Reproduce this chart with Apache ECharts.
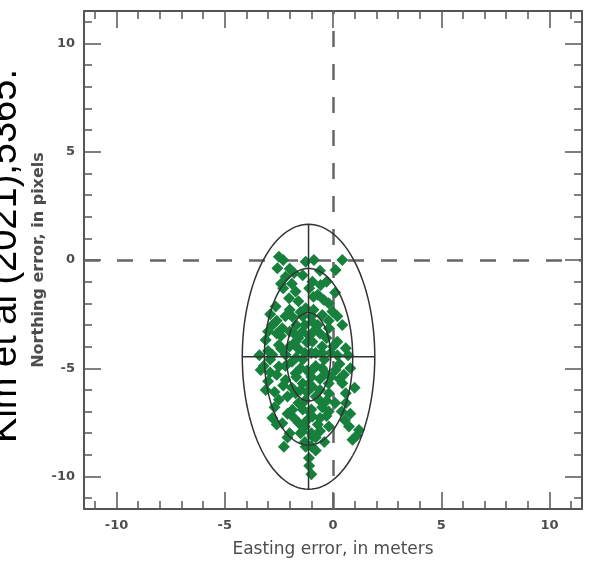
<!DOCTYPE html>
<html>
<head>
<meta charset="utf-8">
<script src="https://cdn.jsdelivr.net/npm/echarts@6/dist/echarts.min.js"></script>
<style>html,body{margin:0;padding:0;background:#fff;}#chart{width:590px;height:563px;}</style>
</head>
<body>
<div id="chart"></div>
<script>
// Error samples (easting, northing)
const eastingErr = [
 -2.50,-2.57,-2.19,-0.88,-1.26,0.43,0.12,-0.57,-0.95,-1.73,-2.03,-2.65,-0.42,-0.03,0.43,-0.19,
 -3.11,-2.80,-2.34,-1.88,-1.26,-0.95,-0.49,0.20,0.59,-2.50,-1.73,-0.95,-1.42,-2.19,-2.80,
 -3.34,-3.11,-2.50,-2.19,-2.50,-1.73,-1.73,-0.95,-0.95,-0.65,-0.34,0.12,0.43,0.59,-0.19,
 -1.88,-2.34,-1.57,-0.95,-0.95,-0.19,0.74,0.90,1.20,-2.27,-1.11,-1.26,-1.42,-2.10,
 -1.5,-1.0,-0.6,-1.3,-1.8,-0.9,-1.2,-0.5,-1.6,-2.0,-1.0,-0.4,-1.4,-1.9,-0.8,-1.2,-1.7,-0.6,
 -1.1,-1.5,-0.8,-1.3,-1.0,-1.6,-0.5,-1.2,-0.7,-1.0,-1.3,-0.8,-1.1,-2.3,-2.6,-2.9,-2.4,-2.7,
 -2.1,-0.1,0.3,-0.2,0.1,-0.3,0.4,-2.2,-2.4,-0.2,0.2,-0.7,-1.6,-1.1,-2.3,-1.8,-2.9,-3.0,-3.4,
 -3.0,-2.8,0.8,0.7,1.0,0.55,1.1,
 -2.3,-2.0,-2.4,-1.9,-1.4,-0.6,-0.3,0.1,-0.9,-1.4,-1.7,-2.0,-1.1,-0.7,-0.3,0.0,-0.8,-1.3,
 -1.7,-2.2,-1.5,-1.0,-0.5,-0.1,0.3,-1.4,-1.9,-2.1,-1.2,-0.6,-0.3,-1.4,-1.8,-1.1,-0.6,-0.2,
 -1.3,-0.8,-1.0,-1.5,-0.6,-2.6,-2.0,-1.0,-2.6,-3.2,-2.9,-2.7,0.5,0.6,0.8,-0.4,-1.6,-0.9,
 -0.2,-2.0,-2.6,-3.0,0.2,-0.5
];
const northingErr = [
 0.15,-0.38,-0.77,0.00,-0.08,0.00,-0.46,-1.15,-1.00,-1.46,-1.77,-2.15,-1.85,-2.38,-3.00,-3.15,
 -3.69,-3.00,-3.15,-2.62,-2.23,-2.85,-2.54,-3.77,-4.08,-3.92,-3.77,-3.77,-3.31,-4.38,-4.38,
 -5.08,-6.00,-4.92,-5.54,-6.46,-5.23,-6.15,-5.08,-5.85,-6.46,-5.23,-5.08,-5.69,-6.15,-6.15,
 -6.92,-7.54,-7.54,-7.23,-8.15,-7.69,-7.69,-8.30,-7.85,-8.62,-9.15,-8.62,-7.92,-8.20,
 -2.4,-2.6,-3.4,-3.0,-3.4,-3.3,-3.8,-4.0,-4.1,-4.0,-4.3,-4.6,-4.6,-4.7,-4.9,-5.1,-5.4,-5.5,
 -5.7,-6.0,-6.3,-6.5,-6.9,-6.6,-6.8,-7.4,-7.6,-8.0,-8.4,-8.8,-9.5,-5.8,-5.3,-4.6,-4.1,-6.8,
 -7.1,-4.3,-4.8,-5.7,-6.6,-7.2,-7.0,-2.6,-3.5,-2.0,-2.6,-1.6,-1.9,-1.3,-1.3,-0.6,-2.5,-4.2,-4.4,
 -5.6,-7.3,-5.0,-4.4,-5.9,-7.4,-8.1,
 0.0,-0.4,-1.1,-1.1,-0.7,-0.5,-1.0,-1.5,-1.7,-2.6,-3.0,-3.3,-3.5,-3.0,-3.6,-4.0,-4.3,-4.3,
 -4.5,-4.9,-5.0,-5.4,-5.0,-5.4,-5.5,-5.7,-5.9,-6.3,-6.1,-6.0,-6.5,-6.9,-7.3,-7.0,-7.3,-7.0,
 -7.7,-8.2,-8.6,-8.0,-7.9,-7.6,-8.0,-9.9,-2.8,-4.9,-5.2,-6.1,-5.3,-6.6,-7.1,-8.4,-3.6,-2.3,
 -2.8,-2.3,-3.4,-3.3,-4.4,-4.3
];
// Error ellipse: center and 1/2/3-sigma semi-axes
const ellipseCenter = [-1.13, -4.47];
const ellipseRadiusX = [1.02, 2.04, 3.06];
const ellipseRadiusY = [2.04, 4.08, 6.12];
// Axis ticks
const majorTicks = [-10, -5, 0, 5, 10];
const minorTicks = [-11,-10,-9,-8,-7,-6,-5,-4,-3,-2,-1,0,1,2,3,4,5,6,7,8,9,10,11];
const axisMin = -11.5, axisMax = 11.5;

const points = eastingErr.map((x, i) => [x, northingErr[i]]);
const frameColor = '#555';
const textColor = '#4d4d4d';

function mkAxis(pos, major, withLabel, name, isY) {
  const a = {
    type: 'value', position: pos, min: axisMin, max: axisMax,
    axisLine: { show: major, onZero: false, lineStyle: { color: frameColor, width: 2 } },
    axisTick: { show: true, inside: true, length: major ? 17 : 8, customValues: major ? majorTicks : minorTicks,
                lineStyle: { color: frameColor, width: 1.5 } },
    axisLabel: { show: withLabel, customValues: majorTicks, color: textColor,
                 fontFamily: 'DejaVu Sans', fontWeight: 'bold', fontSize: 13, margin: isY ? 9 : 10 },
    splitLine: { show: false }
  };
  if (name) {
    a.name = name; a.nameLocation = 'middle';
    a.nameMoveOverlap = false;
    a.nameGap = isY ? 37 : 32;
    a.nameTextStyle = isY
      ? { color: textColor, fontFamily: 'DejaVu Sans', fontWeight: 'bold', fontSize: 16 }
      : { color: textColor, fontFamily: 'DejaVu Sans', fontSize: 17 };
  }
  return a;
}

const chart = echarts.init(document.getElementById('chart'), null, { renderer: 'canvas' });
chart.setOption({
  animation: false,
  backgroundColor: '#fff',
  grid: { left: 84, right: 8, top: 11, bottom: 52 },
  xAxis: [
    mkAxis('bottom', true, true, 'Easting error, in meters', false),
    mkAxis('bottom', false, false, null, false),
    mkAxis('top', true, false, null, false),
    mkAxis('top', false, false, null, false)
  ],
  yAxis: [
    mkAxis('left', true, true, 'Northing error, in pixels', true),
    mkAxis('left', false, false, null, true),
    mkAxis('right', true, false, null, true),
    mkAxis('right', false, false, null, true)
  ],
  graphic: [{
    type: 'text', x: 25, y: 256, rotation: Math.PI / 2, z: 100,
    style: { text: 'Kim et al (2021),5365.', font: '38px "Liberation Sans"', fill: '#000',
             textAlign: 'center', textVerticalAlign: 'bottom' }
  }],
  series: [
    {
      type: 'scatter', xAxisIndex: 0, yAxisIndex: 0, z: 3,
      symbol: 'diamond', symbolSize: 12,
      itemStyle: { color: '#17803d', opacity: 1 },
      data: points,
      markLine: {
        silent: true, symbol: 'none', z: 1,
        label: { show: false },
        lineStyle: { color: '#666', width: 2.5, type: [16, 17], opacity: 1 },
        data: [{ xAxis: 0 }, { yAxis: 0 }]
      }
    },
    {
      type: 'custom', xAxisIndex: 0, yAxisIndex: 0, z: 5, silent: true,
      data: [ellipseCenter],
      renderItem: function (params, api) {
        const cx = api.value(0), cy = api.value(1);
        const children = [];
        const style = { stroke: '#333', lineWidth: 1.5, fill: null };
        for (let k = 0; k < ellipseRadiusX.length; k++) {
          const pts = [];
          for (let t = 0; t < 120; t++) {
            const th = t / 120 * Math.PI * 2;
            pts.push(api.coord([cx + ellipseRadiusX[k] * Math.cos(th), cy + ellipseRadiusY[k] * Math.sin(th)]));
          }
          children.push({ type: 'polygon', shape: { points: pts }, style: style });
        }
        const rx = ellipseRadiusX[2], ry = ellipseRadiusY[2];
        const l = api.coord([cx - rx, cy]), r = api.coord([cx + rx, cy]);
        const t = api.coord([cx, cy + ry]), b = api.coord([cx, cy - ry]);
        children.push({ type: 'line', shape: { x1: l[0], y1: l[1], x2: r[0], y2: r[1] }, style: style });
        children.push({ type: 'line', shape: { x1: t[0], y1: t[1], x2: b[0], y2: b[1] }, style: style });
        return { type: 'group', children: children };
      }
    }
  ]
});
</script>
</body>
</html>
